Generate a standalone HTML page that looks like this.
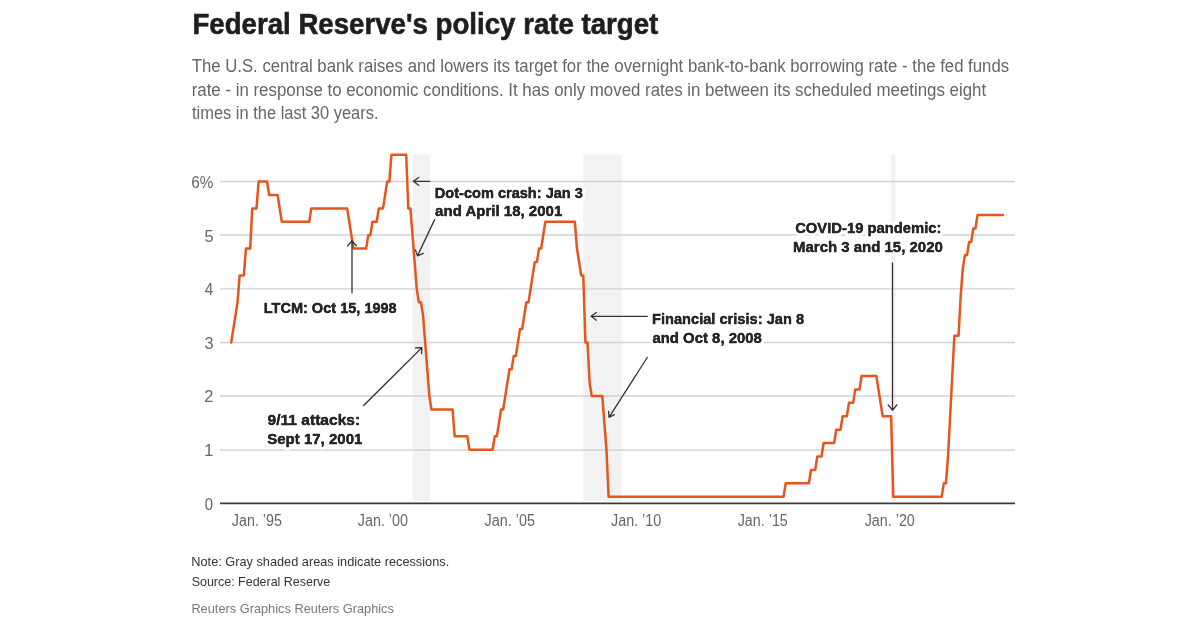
<!DOCTYPE html>
<html><head><meta charset="utf-8">
<style>
html,body{margin:0;padding:0;background:#fff;width:1200px;height:628px;overflow:hidden}
svg{display:block;will-change:transform}
text{font-family:"Liberation Sans",sans-serif}
.t{font-weight:bold;font-size:29px;fill:#1e1e1e;stroke:#1e1e1e;stroke-width:0.6px}
.s{font-size:17.5px;fill:#666}
.ax{font-size:16px;fill:#666}
.an{font-weight:bold;font-size:15.3px;fill:#262626;stroke:#fff;stroke-width:6.5px;stroke-linejoin:round;paint-order:stroke}
.an2{font-weight:bold;font-size:15.3px;fill:#262626;stroke:#262626;stroke-width:0.3px}
.nt{font-size:13.5px;fill:#333}
.rg{font-size:13.5px;fill:#777}
.grid line{stroke:#d2d2d2;stroke-width:1.4}
.arr{stroke:#333;stroke-width:1.3;fill:none;stroke-linecap:round;stroke-linejoin:round}
</style></head><body>
<svg width="1200" height="628" viewBox="0 0 1200 628">
<text id="t_title" x="192.38" y="33.6" class="t" textLength="465.96" lengthAdjust="spacingAndGlyphs">Federal Reserve&#x27;s policy rate target</text>
<text id="t_sub1" x="191.68" y="72.2" class="s" textLength="817.42" lengthAdjust="spacingAndGlyphs">The U.S. central bank raises and lowers its target for the overnight bank-to-bank borrowing rate - the fed funds</text>
<text id="t_sub2" x="191.67" y="95.5" class="s" textLength="794.50" lengthAdjust="spacingAndGlyphs">rate - in response to economic conditions. It has only moved rates in between its scheduled meetings eight</text>
<text id="t_sub3" x="191.97" y="118.6" class="s" textLength="186.50" lengthAdjust="spacingAndGlyphs">times in the last 30 years.</text>
<g class="rec" fill="#f2f2f2">
<rect x="412.6" y="154.5" width="17.4" height="346.5"/>
<rect x="583.3" y="154.5" width="38.4" height="346.5"/>
<rect x="891.1" y="154.5" width="4.4" height="346.5"/>
</g>
<g class="grid">
<line x1="220" x2="1015" y1="181.5" y2="181.5"/>
<line x1="220" x2="1015" y1="234.95" y2="234.95"/>
<line x1="220" x2="1015" y1="288.85" y2="288.85"/>
<line x1="220" x2="1015" y1="342.5" y2="342.5"/>
<line x1="220" x2="1015" y1="395.95" y2="395.95"/>
<line x1="220" x2="1015" y1="450.0" y2="450.0"/>
</g>
<g class="ax">
<text id="t_y6" x="191.22" y="187.9" textLength="22.12" lengthAdjust="spacingAndGlyphs">6%</text>
<text id="t_y5" x="204.43" y="241.5" textLength="9.08" lengthAdjust="spacingAndGlyphs">5</text>
<text id="t_y4" x="204.69" y="295.2" textLength="8.47" lengthAdjust="spacingAndGlyphs">4</text>
<text id="t_y3" x="204.50" y="348.8" textLength="9.05" lengthAdjust="spacingAndGlyphs">3</text>
<text id="t_y2" x="204.36" y="402.4" textLength="9.13" lengthAdjust="spacingAndGlyphs">2</text>
<text id="t_y1" x="204.31" y="456.1" textLength="9.11" lengthAdjust="spacingAndGlyphs">1</text>
<text id="t_y0" x="204.80" y="509.7" textLength="8.31" lengthAdjust="spacingAndGlyphs">0</text>
<text id="t_x95" x="231.82" y="526.2" textLength="50.16" lengthAdjust="spacingAndGlyphs">Jan. ’95</text>
<text id="t_x00" x="357.83" y="526.2" textLength="50.16" lengthAdjust="spacingAndGlyphs">Jan. ’00</text>
<text id="t_x05" x="484.59" y="526.2" textLength="50.29" lengthAdjust="spacingAndGlyphs">Jan. ’05</text>
<text id="t_x10" x="611.12" y="526.2" textLength="50.10" lengthAdjust="spacingAndGlyphs">Jan. ’10</text>
<text id="t_x15" x="737.67" y="526.2" textLength="50.16" lengthAdjust="spacingAndGlyphs">Jan. ’15</text>
<text id="t_x20" x="864.67" y="526.2" textLength="50.17" lengthAdjust="spacingAndGlyphs">Jan. ’20</text>
</g>
<g class="an">
<text id="t_dc1" x="434.81" y="197.6" textLength="148.11" lengthAdjust="spacingAndGlyphs">Dot-com crash: Jan 3</text>
<text id="t_dc2" x="435.11" y="215.9" textLength="127.13" lengthAdjust="spacingAndGlyphs">and April 18, 2001</text>
<text id="t_ltcm" x="263.72" y="312.7" textLength="132.99" lengthAdjust="spacingAndGlyphs">LTCM: Oct 15, 1998</text>
<text id="t_911a" x="267.55" y="425.2" textLength="92.60" lengthAdjust="spacingAndGlyphs">9/11 attacks:</text>
<text id="t_911b" x="267.19" y="443.5" textLength="95.17" lengthAdjust="spacingAndGlyphs">Sept 17, 2001</text>
<text id="t_fc1" x="651.99" y="324.3" textLength="152.06" lengthAdjust="spacingAndGlyphs">Financial crisis: Jan 8</text>
<text id="t_fc2" x="652.40" y="342.6" textLength="109.49" lengthAdjust="spacingAndGlyphs">and Oct 8, 2008</text>
<text id="t_cv1" x="795.20" y="233.2" textLength="146.23" lengthAdjust="spacingAndGlyphs">COVID-19 pandemic:</text>
<text id="t_cv2" x="793.04" y="251.9" textLength="149.78" lengthAdjust="spacingAndGlyphs">March 3 and 15, 2020</text>
</g>
<g class="an2">
<text x="434.81" y="197.6" textLength="148.11" lengthAdjust="spacingAndGlyphs">Dot-com crash: Jan 3</text>
<text x="435.11" y="215.9" textLength="127.13" lengthAdjust="spacingAndGlyphs">and April 18, 2001</text>
<text x="263.72" y="312.7" textLength="132.99" lengthAdjust="spacingAndGlyphs">LTCM: Oct 15, 1998</text>
<text x="267.55" y="425.2" textLength="92.60" lengthAdjust="spacingAndGlyphs">9/11 attacks:</text>
<text x="267.19" y="443.5" textLength="95.17" lengthAdjust="spacingAndGlyphs">Sept 17, 2001</text>
<text x="651.99" y="324.3" textLength="152.06" lengthAdjust="spacingAndGlyphs">Financial crisis: Jan 8</text>
<text x="652.40" y="342.6" textLength="109.49" lengthAdjust="spacingAndGlyphs">and Oct 8, 2008</text>
<text x="795.20" y="233.2" textLength="146.23" lengthAdjust="spacingAndGlyphs">COVID-19 pandemic:</text>
<text x="793.04" y="251.9" textLength="149.78" lengthAdjust="spacingAndGlyphs">March 3 and 15, 2020</text>
</g>
<path d="M231.20,342.48 L233.31,329.07 L235.42,315.66 L237.53,302.25 L239.63,275.43 L243.85,275.43 L245.96,248.61 L250.18,248.61 L252.28,208.38 L256.50,208.38 L258.61,181.56 L267.04,181.56 L269.15,194.97 L277.58,194.97 L279.69,208.38 L281.80,221.79 L309.21,221.79 L311.32,208.38 L347.16,208.38 L349.27,221.79 L351.38,235.20 L353.48,248.61 L366.13,248.61 L368.24,235.20 L370.35,235.20 L372.46,221.79 L376.68,221.79 L378.78,208.38 L383.00,208.38 L385.11,194.97 L387.22,181.56 L389.33,181.56 L391.43,154.74 L406.19,154.74 L408.30,208.38 L410.41,208.38 L412.52,235.20 L414.62,262.02 L416.73,288.84 L418.84,302.25 L420.95,302.25 L423.06,315.66 L425.17,342.48 L427.27,369.30 L429.38,396.12 L431.49,409.53 L452.58,409.53 L454.68,436.35 L467.33,436.35 L469.44,449.76 L492.63,449.76 L494.74,436.35 L496.85,436.35 L498.96,422.94 L501.07,409.53 L503.18,409.53 L505.28,396.12 L507.39,382.71 L509.50,369.30 L511.61,369.30 L513.72,355.89 L515.83,355.89 L517.93,342.48 L520.04,329.07 L522.15,329.07 L524.26,315.66 L526.37,302.25 L528.48,302.25 L530.58,288.84 L532.69,275.43 L534.80,262.02 L536.91,262.02 L539.02,248.61 L541.12,248.61 L543.23,235.20 L545.34,221.79 L574.86,221.79 L576.97,248.61 L579.08,262.02 L581.18,275.43 L583.29,275.43 L585.40,342.48 L587.51,342.48 L589.62,382.71 L591.73,396.12 L602.27,396.12 L604.38,422.94 L606.48,449.76 L608.59,496.69 L783.58,496.69 L785.69,483.28 L808.88,483.28 L810.99,469.88 L815.21,469.88 L817.32,456.46 L821.53,456.46 L823.64,443.05 L834.18,443.05 L836.29,429.64 L840.51,429.64 L842.62,416.23 L846.83,416.23 L848.94,402.82 L853.16,402.82 L855.27,389.41 L859.48,389.41 L861.59,376.00 L876.35,376.00 L878.46,389.41 L880.57,402.82 L882.68,416.23 L891.11,416.23 L893.22,496.69 L941.71,496.69 L943.82,483.28 L945.93,483.28 L948.03,456.46 L950.14,416.23 L952.25,376.00 L954.36,335.77 L958.58,335.77 L960.68,295.54 L962.79,268.72 L964.90,255.31 L967.01,255.31 L969.12,241.90 L971.23,241.90 L973.33,228.49 L975.44,228.49 L977.55,215.08 L1002.85,215.08" fill="none" stroke="#e5561a" stroke-width="2.5" stroke-linejoin="round" stroke-linecap="round"/>
<line x1="220" x2="1015" y1="503.4" y2="503.4" stroke="#3a3a3a" stroke-width="1.6"/>
<g class="arr">
<path d="M429.8,181.3 H413.4 M418.7,177.4 L413.4,181.3 L418.7,185.2"/>
<path d="M434.6,219.6 L417.5,255.9 M415.4,249.9 L417.5,255.9 L423.4,253.4"/>
<path d="M352,292.8 V240.9 M347.7,245.8 L352,240.9 L356.3,245.8"/>
<path d="M363.6,405.5 L421.9,347.6 M415.3,347.8 L421.9,347.6 L421.6,353.8"/>
<path d="M647.3,316.3 H591.1 M596.4,312.4 L591.1,316.3 L596.4,320.2"/>
<path d="M647.3,357.5 L609,417.3 M608.6,411.5 L609,417.3 L614.3,414.6"/>
<path d="M892.5,263 V410.2 M888.2,405 L892.5,410.2 L896.8,405"/>
</g>
<text id="t_note" x="191.31" y="566.3" class="nt" textLength="257.88" lengthAdjust="spacingAndGlyphs">Note: Gray shaded areas indicate recessions.</text>
<text id="t_src" x="191.63" y="586.1" class="nt" textLength="138.68" lengthAdjust="spacingAndGlyphs">Source: Federal Reserve</text>
<text id="t_rg" x="191.38" y="612.5" class="rg" textLength="202.50" lengthAdjust="spacingAndGlyphs">Reuters Graphics Reuters Graphics</text>
</svg>
</body></html>
